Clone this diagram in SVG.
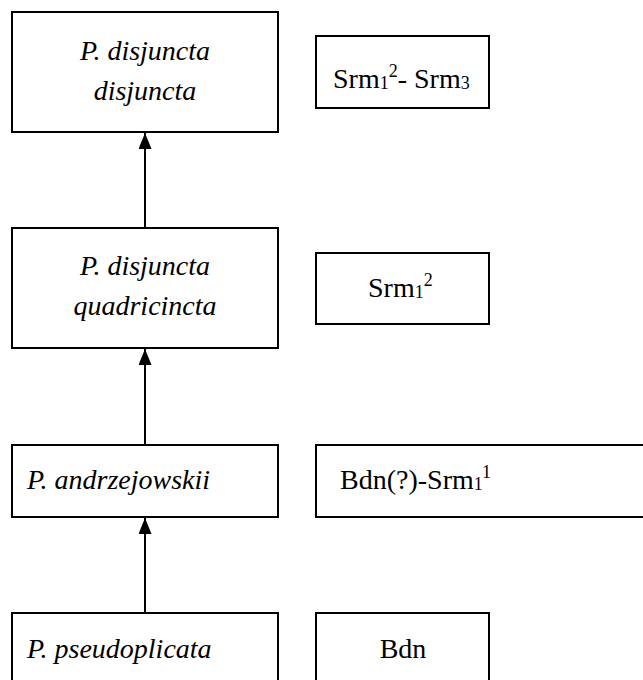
<svg xmlns="http://www.w3.org/2000/svg" width="643" height="680" viewBox="0 0 643 680">
<style>
.box{fill:#fff;stroke:#000;stroke-width:2}
.c{stroke:#000;stroke-width:2;fill:none}
</style>
<defs>
<marker id="ah" markerWidth="16" markerHeight="13" refX="16" refY="6.5" orient="auto" markerUnits="userSpaceOnUse" viewBox="0 0 16 13">
<path d="M0,0 L16,6.5 L0,13 Z" fill="#000"/>
</marker>
</defs>
<rect width="643" height="680" fill="#fff"/>
<g id="connectors">
<line class="c" x1="145" y1="228" x2="145" y2="133" marker-end="url(#ah)"/>
<line class="c" x1="145" y1="445" x2="145" y2="349" marker-end="url(#ah)"/>
<line class="c" x1="145" y1="613" x2="145" y2="518" marker-end="url(#ah)"/>
</g>
<g id="n1">
<rect class="box" x="12" y="12" width="266" height="120"/>
<text font-family="Times New Roman" font-size="28" font-style="italic" x="145" y="60" text-anchor="middle">P. disjuncta</text>
<text font-family="Times New Roman" font-size="28" font-style="italic" x="145" y="100" text-anchor="middle">disjuncta</text>
</g>
<g id="r1">
<rect class="box" x="316" y="36" width="173" height="72"/>
<text font-family="Times New Roman" font-size="28" x="333" y="88">Srm<tspan font-size="18" dy="1">1</tspan><tspan font-size="18" dy="-12">2</tspan><tspan dy="11">- Srm</tspan><tspan font-size="18" dy="1">3</tspan></text>
</g>
<g id="n2">
<rect class="box" x="12" y="228" width="266" height="120"/>
<text font-family="Times New Roman" font-size="28" font-style="italic" x="145" y="275" text-anchor="middle">P. disjuncta</text>
<text font-family="Times New Roman" font-size="28" font-style="italic" x="145" y="315" text-anchor="middle">quadricincta</text>
</g>
<g id="r2">
<rect class="box" x="316" y="253" width="173" height="71"/>
<text font-family="Times New Roman" font-size="28" x="368" y="297">Srm<tspan font-size="18" dy="1">1</tspan><tspan font-size="18" dy="-12">2</tspan></text>
</g>
<g id="n3">
<rect class="box" x="12" y="445" width="266" height="72"/>
<text font-family="Times New Roman" font-size="28" font-style="italic" x="27" y="489">P. andrzejowskii</text>
</g>
<g id="r3">
<rect class="box" x="316" y="445" width="340" height="72"/>
<text font-family="Times New Roman" font-size="28" x="340" y="489">Bdn(?)-Srm<tspan font-size="18" dy="1">1</tspan><tspan font-size="18" dy="-12">1</tspan></text>
</g>
<g id="n4">
<rect class="box" x="12" y="613" width="266" height="80"/>
<text font-family="Times New Roman" font-size="28" font-style="italic" x="27" y="658">P. pseudoplicata</text>
</g>
<g id="r4">
<rect class="box" x="316" y="613" width="173" height="80"/>
<text font-family="Times New Roman" font-size="28" x="403" y="658" text-anchor="middle">Bdn</text>
</g>
</svg>
